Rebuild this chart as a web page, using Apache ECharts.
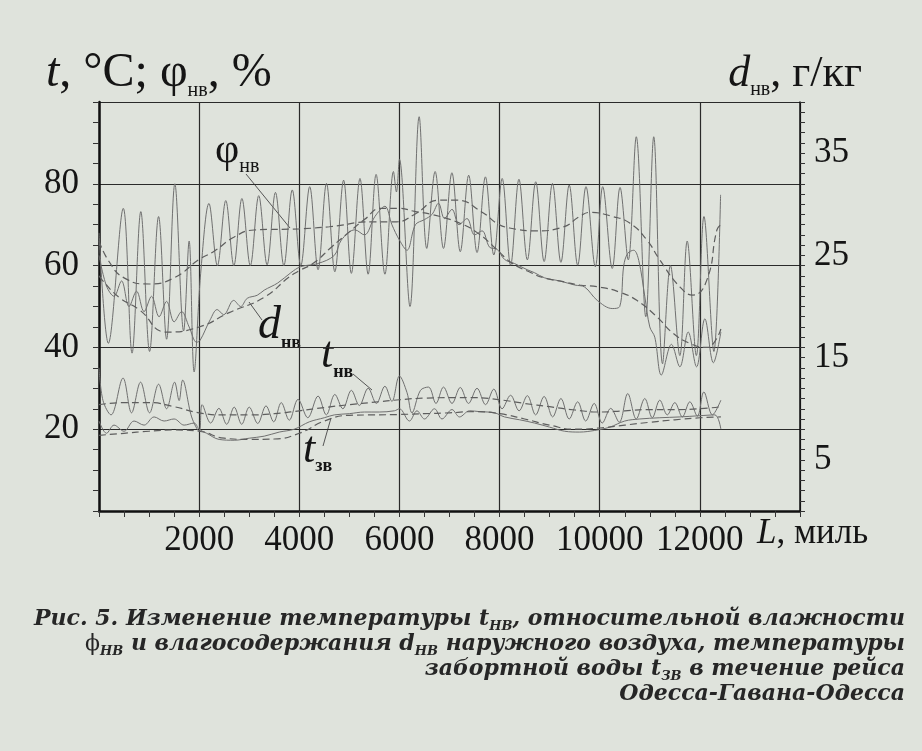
<!DOCTYPE html>
<html>
<head>
<meta charset="utf-8">
<script src="https://cdn.jsdelivr.net/npm/echarts@6/dist/echarts.min.js"></script>
<style>
html,body{margin:0;padding:0;background:#dfe3dc;}
#main{width:922px;height:751px;}
</style>
</head>
<body>
<div id="main"></div>
<script>
// x - distance, miles
var xTicks = [0, 2000, 4000, 6000, 8000, 10000, 12000, 14000];

// relative humidity of outside air, % (left axis)
var phiNv = [[0,68],[187,41],[485,74],[660,38.6],[835,73.2],[1010,39],[1190,72],[1350,42],[1515,80],[1690,44],
  [1800,66],[1900,34],[2030,58],[2196,75.2],[2364,60],[2532,75.9],[2693,60],[2854,76.4],[3022,60],[3190,77.1],
  [3357,60.2],[3524,77.9],[3692,60],[3860,78.5],[4030,60],[4208,79.3],[4375,59],[4543,80.1],[4710,58.5],[4885,80.9],
  [5040,58.1],[5212,81.3],[5375,57.9],[5534,82.3],[5710,57.9],[5881,83],[5940,78],[6000,86],[6211,50],[6394,96.4],
  [6546,64.2],[6713,83],[6880,64.2],[7048,82.7],[7215,63.4],[7383,82.1],[7550,63.2],[7717,81.7],[7885,62.6],[8052,81.3],
  [8220,60.1],[8387,81.1],[8555,61.4],[8722,80.5],[8890,61],[9056,80.1],[9225,60.8],[9391,79.7],[9560,60.1],[9726,79.3],
  [9912,59.7],[10060,79.3],[10250,59.3],[10406,79.1],[10570,61.4],[10730,91.5],[10920,47.5],[11079,91.5],[11255,36],
  [11413,60],[11600,38],[11747,66],[11930,38],[12082,72],[12280,39],[12414,77.3]];
var phiNvAvg = [[0,66],[200,61],[500,57],[1000,55.5],[1500,57],[2000,61.5],[2300,63.5],[2700,67],[3100,68.7],[4000,69],
  [4600,69.5],[5460,70.7],[5940,70.7],[6300,72.5],[6800,76],[7140,76],[7660,73],[7940,70.4],[8200,69.2],[8740,68.5],
  [9260,69.4],[9600,72],[9800,73],[10260,72],[10600,70.4],[10940,66.3],[11200,61.4],[11600,54.8],[11860,52.8],
  [12140,56.5],[12340,68.7],[12420,70]];

// moisture content of outside air, g/kg (right axis)
var dNv = [[0,25],[150,22],[300,21],[450,22.5],[600,20],[750,21.5],[900,19.5],[1050,21],[1200,19],[1350,20.5],
  [1500,18.5],[1650,19.5],[1800,18],[1950,16.5],[2020,16.7],[2220,18.7],[2360,19.7],[2490,19.2],[2690,20.6],[2830,20],
  [2960,20.8],[3160,21.1],[3300,21.6],[3570,22.3],[3830,23.3],[4030,23.9],[4370,24.2],[4700,25],[4840,26.5],[5110,27.5],
  [5300,27],[5510,28.8],[5710,29.8],[5850,28],[6000,26.5],[6150,25.5],[6320,28],[6500,28.5],[6650,29],[6780,30.1],
  [6900,28.6],[7050,29.5],[7190,28],[7350,28.6],[7500,27],[7650,27.4],[7800,25.8],[7950,25.6],[8100,24.6],[8300,24.2],
  [8550,23.6],[8700,23.3],[8900,22.8],[9200,22.5],[9500,22.1],[9700,21.9],[9950,20.6],[10250,19.8],[10400,20],
  [10480,24],[10560,25.2],[10680,25.5],[10780,24.5],[10900,21],[11000,18],[11100,17],[11230,13.3],[11433,16.3],
  [11600,14.1],[11767,17.5],[11934,14.1],[12100,18.8],[12270,14.5],[12420,17.5]];
var dNvAvg = [[0,23],[60,22.6],[400,20.9],[800,19.7],[1350,17.5],[2000,18],[2600,19.4],[3300,20.9],[3800,22.9],
  [4000,23.5],[4300,24.3],[4640,25.8],[5000,27.3],[5300,28.5],[5640,29.6],[6000,29.6],[6300,29.3],[6650,29],[7180,28.2],
  [7560,27.2],[7960,25.5],[8230,24.3],[8630,23.3],[8890,22.8],[9300,22.4],[9600,22.1],[10000,21.9],[10400,21.4],
  [10740,20.6],[11140,19],[11460,17.4],[11800,16.4],[12140,16],[12300,16.6],[12420,17.8]];

// outside air temperature, °C (left axis)
var tNv = [[0,35],[80,27],[240,23.5],[480,32.5],[650,24],[830,31.5],[1010,24],[1190,31],[1350,25],[1510,31.5],
  [1600,27],[1670,32],[1850,23],[2000,19.5],[2060,26],[2230,21.5],[2395,25.1],[2550,21.2],[2700,25.4],[2850,21.2],
  [3000,25.4],[3170,21.4],[3335,25.7],[3490,21.8],[3640,26.5],[3800,22.2],[3975,27.3],[4170,22.8],[4375,28.1],
  [4540,23.5],[4710,28.5],[4870,25],[5040,29.5],[5200,25.8],[5375,30],[5540,26.3],[5710,30.5],[5850,26.8],[6000,33],
  [6150,29],[6250,24],[6420,29.5],[6580,30.3],[6730,26.3],[6880,30.3],[7050,26.3],[7215,30.2],[7380,26.3],[7550,30],
  [7720,26],[7885,29.8],[8050,25],[8220,28.3],[8390,24.5],[8555,28.2],[8720,23.5],[8890,28],[9060,23],[9225,27.5],
  [9390,22.5],[9560,26.7],[9720,22],[9890,26.3],[10050,21.5],[10220,25.1],[10390,21.7],[10560,28.7],[10730,22.5],
  [10900,27.5],[11050,22.8],[11200,27.1],[11350,23.5],[11500,26.5],[11650,23],[11800,26.7],[11950,23.2],[12080,29.1],
  [12250,23.5],[12420,27.1]];
var tNvAvg = [[0,26],[500,26.5],[1000,26.5],[1500,25.5],[2000,24],[2500,23.5],[3000,23.5],[3500,23.8],[4000,24.5],
  [4500,25.3],[5000,26],[5500,26.6],[6000,27.2],[6500,27.6],[7000,27.7],[7500,27.7],[8000,27.2],[8500,26.3],[9000,25.5],
  [9500,24.7],[10000,24.2],[10500,24.5],[11000,24.8],[11500,24.8],[12000,25],[12420,25.5]];

// sea water temperature, °C (left axis)
var tZv = [[0,22],[150,19],[300,21],[500,19.5],[700,22],[900,21],[1100,23],[1300,22],[1500,22.5],[1700,21],
  [1900,21.5],[2000,20],[2150,19],[2400,17.5],[2700,17.3],[3000,17.8],[3300,18.3],[3600,19.3],[3900,20],[4200,21.8],
  [4500,22.8],[4700,23.5],[5000,23.8],[5300,24.2],[5600,24.2],[5900,24.5],[6000,25],[6200,22],[6350,24.5],[6500,22.5],
  [6700,25],[6850,22.5],[7050,24.8],[7200,23],[7400,24.5],[7600,24.3],[7900,24],[8100,23],[8400,22.3],[8700,21.5],
  [9000,20.5],[9300,19.5],[9600,19.3],[9900,19.7],[10200,20.5],[10500,22],[10800,22.5],[11200,22.8],[11600,23],
  [12000,23.3],[12300,23.5],[12420,20]];
var tZvAvg = [[0,18.5],[500,19],[1000,19.5],[1500,19.8],[2000,19.5],[2500,17.8],[3000,17.5],[3500,17.6],[4000,19],
  [4500,22],[5000,23.4],[5500,23.5],[6000,23.6],[6500,23.8],[7000,24],[7500,24.3],[8000,23.8],[8500,22.5],[9000,21],
  [9500,20],[10000,20.3],[10500,21],[11000,21.7],[11500,22.3],[12000,22.8],[12420,23]];

var chart = echarts.init(document.getElementById('main'));

var lineCol = '#707070';
function solid(data, yIdx){
  return {type:'line', data:data, yAxisIndex:yIdx, showSymbol:false, smooth:0.35, animation:false,
    lineStyle:{color:lineCol, width:1}, silent:true};
}
function dashed(data, yIdx){
  return {type:'line', data:data, yAxisIndex:yIdx, showSymbol:false, smooth:0.5, animation:false,
    lineStyle:{color:'#5e5e5e', width:1.2, type:[7,4]}, silent:true};
}

var serif = 'Liberation Serif';
var ink = '#151515';
var lblStyle = {fontFamily:serif, fontSize:35, color:ink};
// big text with a subscript: main tokens get bottom padding so the subscript sits lower
function subRich(big, small, lift, italic){
  return {
    i:{fontFamily:serif, fontStyle:'italic', fontSize:big, fill:ink, verticalAlign:'bottom', padding:[0,0,lift,0]},
    r:{fontFamily:serif, fontSize:big, fill:ink, verticalAlign:'bottom', padding:[0,0,lift,0]},
    s:{fontFamily:serif, fontSize:small, fill:ink, verticalAlign:'bottom', fontWeight:italic ? 'bold' : 'normal'}
  };
}
var capFont = 'DejaVu Serif';
var capRich = {
  b:{fontFamily:capFont, fontStyle:'italic', fontWeight:'bold', fontSize:22, fill:'#262626', verticalAlign:'bottom', padding:[0,0,3,0]},
  f:{fontFamily:capFont, fontSize:22, fill:'#262626', verticalAlign:'bottom', padding:[0,0,3,0]},
  s:{fontFamily:capFont, fontStyle:'italic', fontWeight:'bold', fontSize:13, fill:'#262626', verticalAlign:'bottom'}
};
var capLines = [
  '{b|Рис. 5. Изменение температуры t}{s|НВ}{b|, относительной влажности}',
  '{f|ϕ}{s|НВ}{b| и влагосодержания d}{s|НВ}{b| наружного воздуха, температуры}',
  '{b|забортной воды t}{s|ЗВ}{b| в течение рейса}',
  '{b|Одесса-Гавана-Одесса}'
];

var graphics = [
  {type:'text', left:46, top:49, style:{text:'{i|t}{r|, °C; φ}{s|нв}{r|, %}', rich:subRich(48, 20, 4)}},
  {type:'text', right:60, top:52, style:{text:'{i|d}{s|нв}{r|, г/кг}', rich:subRich(44, 20, 4)}},
  {type:'text', left:757, top:516, style:{text:'{i|L}{r|, миль}', rich:{
    i:{fontFamily:serif, fontStyle:'italic', fontSize:35, fill:ink},
    r:{fontFamily:serif, fontSize:35, fill:ink}}}},
  // curve labels
  {type:'text', x:215, y:130, style:{text:'{r|φ}{s|нв}', rich:subRich(42, 20, 5)}},
  {type:'text', x:258, y:303, style:{text:'{i|d}{s|нв}', rich:subRich(46, 18, 3, true)}},
  {type:'text', x:321, y:333, style:{text:'{i|t}{s|нв}', rich:subRich(44, 18, 4, true)}},
  {type:'text', x:303, y:428, style:{text:'{i|t}{s|зв}', rich:subRich(44, 18, 3, true)}},
  // leader lines
  {type:'polyline', shape:{points:[[246,174],[290,228]]}, style:{stroke:'#555', lineWidth:1}},
  {type:'polyline', shape:{points:[[249,302],[262,320]]}, style:{stroke:'#555', lineWidth:1}},
  {type:'polyline', shape:{points:[[353,374],[372,390]]}, style:{stroke:'#555', lineWidth:1}},
  {type:'polyline', shape:{points:[[323,446],[331,418]]}, style:{stroke:'#555', lineWidth:1}}
];
capLines.forEach(function(t, k){
  graphics.push({type:'text', x:905, y:608 + k * 25,
    style:{text:t, rich:capRich, align:'right', verticalAlign:'top'}});
});

chart.setOption({
  backgroundColor:'#dfe3dc',
  animation:false,
  grid:{left:99, right:122, top:102, bottom:240},
  xAxis:{
    type:'value', min:0, max:14000, interval:2000,
    axisLine:{lineStyle:{color:'#111', width:2.5}},
    axisTick:{show:true, inside:false, length:6, lineStyle:{color:'#333', width:1}},
    minorTick:{show:true, splitNumber:4, length:6, lineStyle:{color:'#333', width:1}},
    splitLine:{show:true, lineStyle:{color:'#2a2a2a', width:1.2}},
    axisLabel:Object.assign({margin:12, formatter:function(v){ return (v === 0 || v === 14000) ? '' : String(v); }}, lblStyle)
  },
  yAxis:[{
    type:'value', min:0, max:100, interval:20, position:'left',
    axisLine:{show:true, lineStyle:{color:'#111', width:2.5}},
    axisTick:{show:true, inside:false, length:6, lineStyle:{color:'#333', width:1}},
    minorTick:{show:true, splitNumber:4, length:6, lineStyle:{color:'#333', width:1}},
    splitLine:{show:true, lineStyle:{color:'#2a2a2a', width:1.2}},
    axisLabel:Object.assign({margin:20, formatter:function(v){ return (v === 0 || v === 100) ? '' : String(v); }}, lblStyle)
  },{
    type:'value', min:0, max:40, interval:5, position:'right',
    axisLine:{show:true, lineStyle:{color:'#111', width:1.5}},
    axisTick:{show:true, inside:false, length:5, lineStyle:{color:'#333', width:1}},
    minorTick:{show:true, splitNumber:5, length:5, lineStyle:{color:'#333', width:1}},
    splitLine:{show:false},
    axisLabel:Object.assign({margin:14, formatter:function(v){ return (v % 10 === 5) ? String(v) : ''; }}, lblStyle)
  }],
  series:[
    solid(phiNv, 0), dashed(phiNvAvg, 0),
    solid(dNv, 1), dashed(dNvAvg, 1),
    solid(tNv, 0), dashed(tNvAvg, 0),
    solid(tZv, 0), dashed(tZvAvg, 0)
  ],
  graphic:graphics
});
</script>
</body>
</html>
